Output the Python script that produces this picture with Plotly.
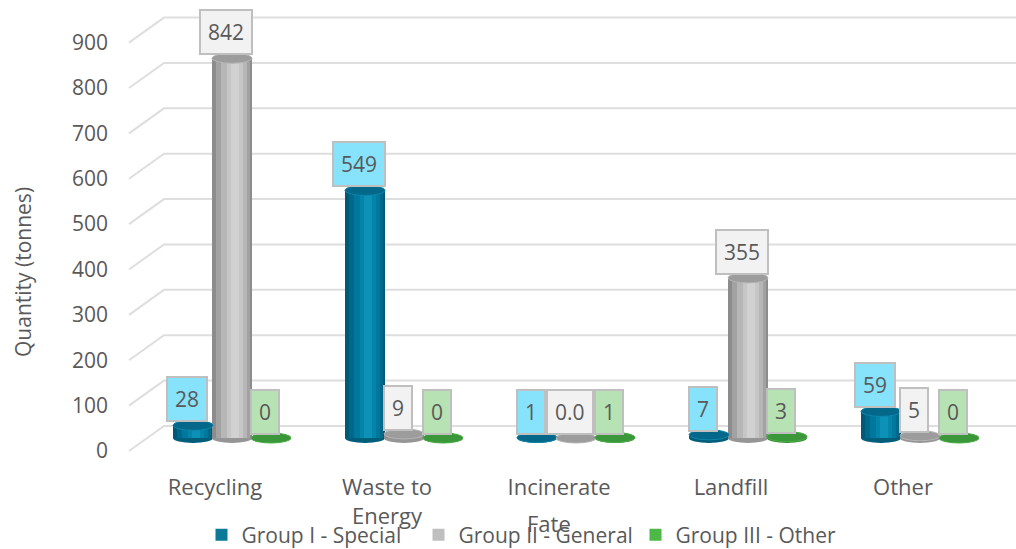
import textwrap
import plotly.graph_objects as go

# ---- data -------------------------------------------------------------
categories = ["Recycling", "Waste to Energy", "Incinerate", "Landfill", "Other"]
group_special = [28, 549, 1, 7, 59]
group_general = [842, 9, 0.0, 355, 5]
group_other = [0, 0, 1, 3, 0]
general_decimals = [0, 0, 1, 0, 0]
y_ticks = list(range(0, 1000, 100))
y_title = "Quantity (tonnes)"
x_title = "Fate"

# ---- layout geometry (pixels) ------------------------------------------
W, H = 1016, 549
ML, MR, MT, MB = 129, 0, 10, 89
PLOT_W = W - ML - MR
PLOT_H = H - MT - MB
SLOT = 172.0                 # pixels per category slot
U = 1.0 / SLOT               # one pixel in x-axis units
BAR_ZERO = 428               # bar floor, px below plot top
BAR_SCALE = 0.451            # px per tonne for the cylinders
TICK_ZERO = 441              # front edge of the value axis, px below plot top
TICK_SCALE = 0.4538
DEPTH_X, DEPTH_Y = 35, 25    # back-wall offset of the grid
TEXT = "#595959"
FONT = "Open Sans"

series = [
    dict(name="Group I - Special", values=group_special, decimals=[0] * 5, dx=-22,
         legend="#0B7A99",
         layers=[(40, 0, "#005A76"), (34, 1, "#006888"), (26, 2, "#00779C"),
                 (16, 3, "#0584AA"), (8, 3, "#0E91B7")],
         top="#05688A", rim="#0C86AA", bottom="#005E7B", label_bg="#87E3FB"),
    dict(name="Group II - General", values=group_general, decimals=general_decimals, dx=17,
         legend="#BFBFBF",
         layers=[(40, 0, "#8C8C8C"), (34, 1, "#A2A2A2"), (26, 2, "#B6B6B6"),
                 (16, 3, "#C6C6C6"), (8, 3, "#D1D1D1")],
         top="#9C9C9C", rim="#B4B4B4", bottom="#959595", label_bg="#F2F2F2"),
    dict(name="Group III - Other", values=group_other, decimals=[0] * 5, dx=56,
         legend="#4DB848",
         layers=[(40, 0, "#2F8A2F"), (34, 1, "#379A36"), (26, 2, "#3FA53D"),
                 (16, 3, "#48B044"), (8, 3, "#52B94C")],
         top="#3A973A", rim="#4AAE46", bottom="#2F8A2F", label_bg="#B7E2B4"),
]

x_pos = list(range(len(categories)))
fig = go.Figure()
shapes = []
annotations = []

# back-wall gridlines with the diagonal floor edge on the left
for v in y_ticks:
    shapes.append(dict(
        type="path", layer="below", xref="paper", yref="y2",
        xsizemode="pixel", ysizemode="pixel", xanchor=0, yanchor=v,
        path=f"M0,0 L{DEPTH_X},{DEPTH_Y} L{PLOT_W},{DEPTH_Y}",
        line=dict(color="#DEDEDE", width=2),
    ))

for s in series:
    centre = [i + s["dx"] * U for i in x_pos]
    # flat-coloured base bar (carries the legend entry)
    fig.add_trace(go.Bar(
        x=x_pos, y=s["values"], name=s["name"], yaxis="y",
        width=40 * U, offset=(s["dx"] - 20) * U,
        marker=dict(color=s["legend"], line=dict(width=0)),
        showlegend=True, hoverinfo="skip",
    ))
    # shaded layers to give the cylinder look
    for w, sh, col in s["layers"]:
        fig.add_trace(go.Bar(
            x=x_pos, y=s["values"], yaxis="y",
            width=w * U, offset=(s["dx"] + sh - w / 2) * U,
            marker=dict(color=col, line=dict(width=0)),
            showlegend=False, hoverinfo="skip",
        ))
    for c, v, d in zip(centre, s["values"], s["decimals"]):
        # rounded bottom and flat top of each cylinder
        shapes.append(dict(
            type="circle", layer="below", xref="x", yref="y",
            xsizemode="pixel", ysizemode="pixel", xanchor=c, yanchor=0,
            x0=-20, x1=20, y0=-5, y1=5,
            fillcolor=s["bottom"], line=dict(width=0),
        ))
        shapes.append(dict(
            type="circle", layer="above", xref="x", yref="y",
            xsizemode="pixel", ysizemode="pixel", xanchor=c, yanchor=v,
            x0=-20, x1=20, y0=-5, y1=5,
            fillcolor=s["top"], line=dict(color=s["rim"], width=1),
        ))
        annotations.append(dict(
            x=c, y=v, xref="x", yref="y", xshift=-6, yshift=26,
            text=f"{v:.{d}f}", showarrow=False,
            font=dict(family=FONT, size=21, color=TEXT),
            bgcolor=s["label_bg"], bordercolor="#BFBFBF", borderwidth=2, borderpad=7,
        ))

annotations.append(dict(
    text=y_title, textangle=-90, showarrow=False,
    xref="paper", yref="paper", x=(23 - ML) / PLOT_W, y=(PLOT_H + MT - 272) / PLOT_H,
    xanchor="center", yanchor="middle",
    font=dict(family=FONT, size=21, color=TEXT),
))
annotations.append(dict(
    text=x_title, showarrow=False,
    xref="paper", yref="paper", x=(549 - ML) / PLOT_W, y=(PLOT_H + MT - 523) / PLOT_H,
    xanchor="center", yanchor="middle",
    font=dict(family=FONT, size=22, color=TEXT),
))

tick_text = ["<br>".join(textwrap.wrap(c, 10)) for c in categories]

fig.update_layout(
    width=W, height=H,
    margin=dict(l=ML, r=MR, t=MT, b=MB, pad=0, autoexpand=False),
    paper_bgcolor="white", plot_bgcolor="rgba(0,0,0,0)",
    barmode="overlay",
    font=dict(family=FONT, color=TEXT),
    xaxis=dict(
        range=[-0.5, -0.5 + PLOT_W * U], tickvals=x_pos, ticktext=tick_text,
        showgrid=False, zeroline=False, showline=False, ticks="",
        tickfont=dict(family=FONT, size=22, color=TEXT), ticklabelstandoff=12,
        fixedrange=True, automargin=False,
    ),
    yaxis=dict(
        range=[-(PLOT_H - BAR_ZERO) / BAR_SCALE, BAR_ZERO / BAR_SCALE],
        visible=False, showgrid=False, zeroline=False, automargin=False,
    ),
    yaxis2=dict(
        range=[-(PLOT_H - TICK_ZERO) / TICK_SCALE, TICK_ZERO / TICK_SCALE],
        overlaying="y", side="left", anchor="x",
        tickvals=y_ticks, showgrid=False, zeroline=False, showline=False, ticks="",
        tickfont=dict(family=FONT, size=21, color=TEXT), ticklabelstandoff=20,
        automargin=False,
    ),
    legend=dict(
        orientation="h", xref="paper", x=(527 - ML) / PLOT_W, xanchor="center",
        yref="container", y=(H - 535) / H, yanchor="middle",
        font=dict(family=FONT, size=21, color=TEXT), bgcolor="rgba(0,0,0,0)",
        itemwidth=30, traceorder="normal", entrywidth=172, entrywidthmode="pixels",
    ),
    shapes=shapes, annotations=annotations,
    showlegend=True,
)

fig.write_html("out.html")
